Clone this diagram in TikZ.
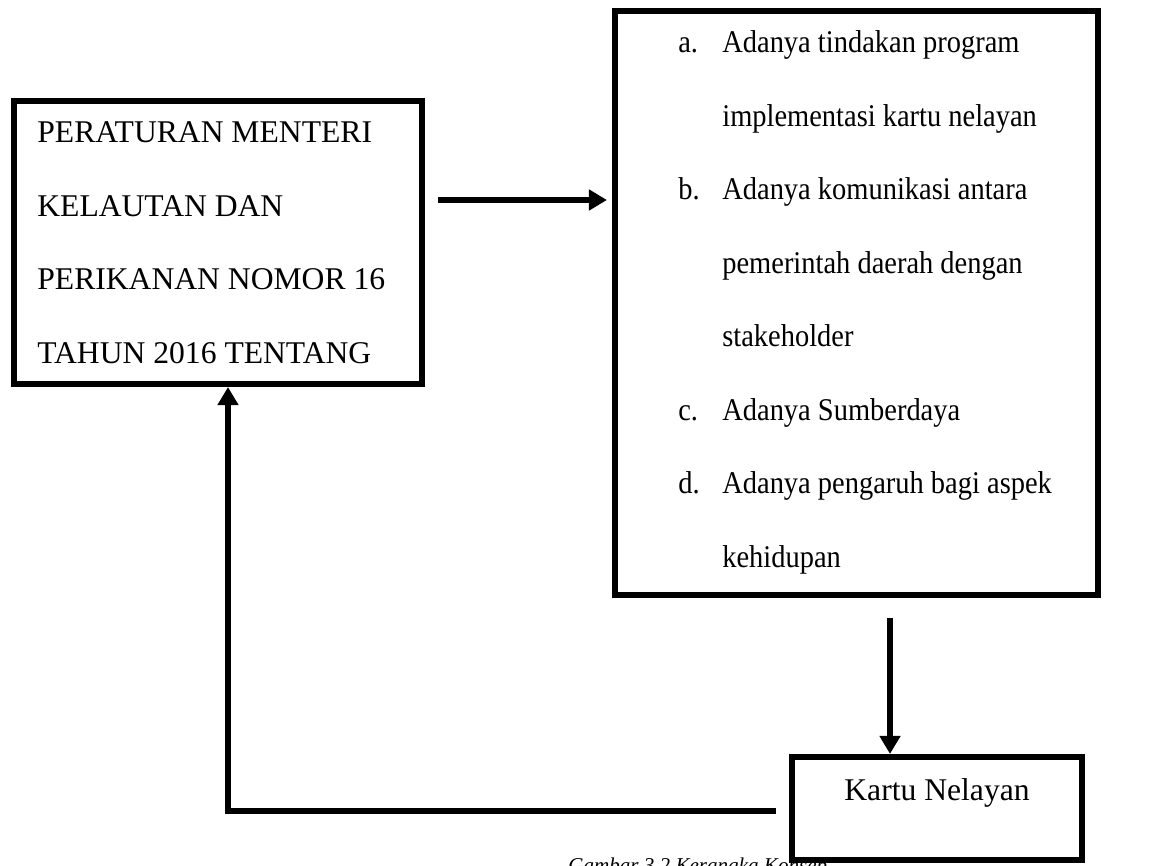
\documentclass[tikz,border=0pt]{standalone}
\usepackage{fontspec}
\setmainfont{Liberation Serif}
\newfontfamily\sempit[FakeStretch=0.9]{Liberation Serif}
\usetikzlibrary{arrows.meta,positioning}

\begin{document}
\begin{tikzpicture}[x=0.02cm, y=-0.02cm,
		kotak/.style={draw=black, line width=3.5pt, fill=white, inner sep=0pt},
		teks/.style={inner sep=0pt, align=left, font=\fontsize{18}{41.8}\selectfont},
		panah/.style={draw=black, line width=3.5pt, -{Triangle[length=0.36cm, width=0.4cm]}}]
		\useasboundingbox (0,0) rectangle (1152,865);
		% judul gambar (terpotong di tepi bawah)
		\node[anchor=base west, inner sep=0pt, font=\fontsize{12}{14}\selectfont\itshape] (judul) at (568,872) {Gambar 3.2 Kerangka Konsep};
		% kotak-kotak
		\node[kotak, minimum width=8.16cm, minimum height=5.66cm] (permen) at (218,242.5) {};
		\node[kotak, minimum width=9.66cm, minimum height=11.68cm] (indikator) at (856.5,303) {};
		\node[kotak, minimum width=5.8cm, minimum height=2.06cm] (kartu) at (937,808.5) {};
		% isi kotak (anchor base = baris terakhir)
		\node[teks, anchor=base west] (txtpermen) at (37,363) {PERATURAN MENTERI\\KELAUTAN DAN\\PERIKANAN NOMOR 16\\TAHUN 2016 TENTANG};
		\node[teks, anchor=base west, font=\fontsize{18}{41.8}\selectfont\sempit] (txtindikator) at (678,567) {%
			\makebox[0.88cm][l]{a.}Adanya tindakan program\\
			\makebox[0.88cm]{}implementasi kartu nelayan\\
			\makebox[0.88cm][l]{b.}Adanya komunikasi antara\\
			\makebox[0.88cm]{}pemerintah daerah dengan\\
			\makebox[0.88cm]{}stakeholder\\
			\makebox[0.88cm][l]{c.}Adanya Sumberdaya\\
			\makebox[0.88cm][l]{d.}Adanya pengaruh bagi aspek\\
			\makebox[0.88cm]{}kehidupan};
		\node[teks, anchor=base] (txtkartu) at (937,800) {Kartu Nelayan};
		% panah
		\coordinate (p1) at (438,200);
		\coordinate (p2) at (890,618);
		\coordinate (p3) at (776,811);
		\coordinate (p4) at (228,811);
		\draw[panah, shorten >=0.1cm] (p1) -- (p1 -| indikator.west);
		\draw[panah] (p2) -- (p2 |- kartu.north);
		\draw[panah] (p3) -- (p4) -- (p4 |- permen.south);
\end{tikzpicture}
\end{document}
